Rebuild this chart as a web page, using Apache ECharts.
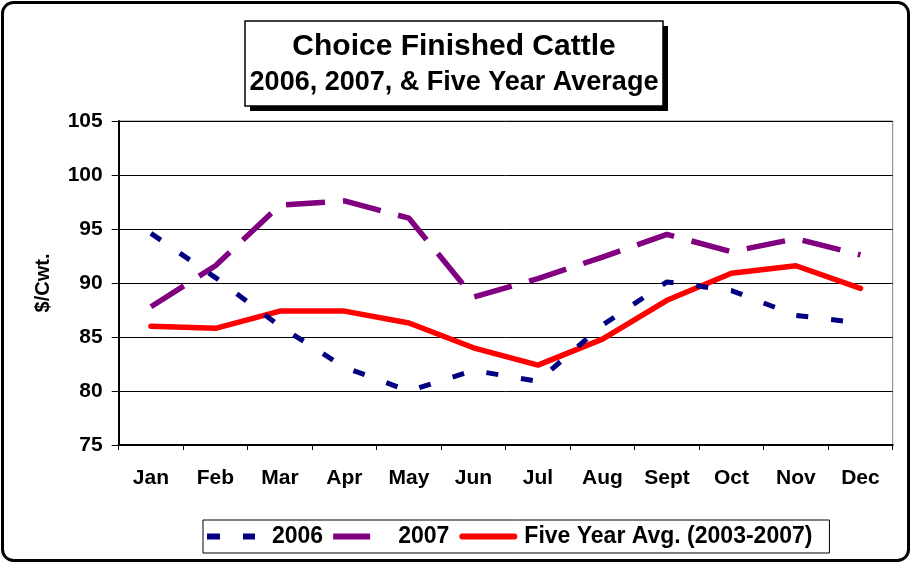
<!DOCTYPE html>
<html>
<head>
<meta charset="utf-8">
<script src="https://cdn.jsdelivr.net/npm/echarts@6/dist/echarts.min.js"></script>
<style>html,body{margin:0;padding:0;background:#fff;}#c{width:915px;height:563px;}</style>
</head>
<body>
<div id="c"></div>
<script>
const months = ['Jan','Feb','Mar','Apr','May','Jun','Jul','Aug','Sept','Oct','Nov','Dec'];
const y2006 = [94.6, 90.5, 86.0, 82.2, 80.0, 81.9, 80.9, 86.1, 90.1, 89.3, 87.0, 86.3];
const y2007 = [87.8, 91.6, 97.2, 97.6, 96.0, 88.7, 90.4, 92.4, 94.5, 92.9, 94.1, 92.6];
const fiveYearAvg = [86.0, 85.8, 87.4, 87.4, 86.3, 84.0, 82.4, 84.8, 88.4, 90.9, 91.6, 89.5];
const yTicks = {min: 75, max: 105, step: 5};
const titleLine1 = 'Choice Finished Cattle';
const titleLine2 = '2006, 2007, & Five Year Average';
const yName = '$/Cwt.';
const names = ['2006', '2007', 'Five Year Avg. (2003-2007)'];

const FONT = '"Liberation Sans", Arial, sans-serif';
const chart = echarts.init(document.getElementById('c'), null, {renderer: 'canvas'});
chart.setOption({
  backgroundColor: '#fff',
  animation: false,
  textStyle: {fontFamily: FONT},
  graphic: [
    {type: 'rect', shape: {x: 2.5, y: 2.5, width: 906, height: 558, r: 11},
     style: {fill: 'none', stroke: '#000', lineWidth: 3}, z: 100},
    {type: 'rect', shape: {x: 250, y: 26, width: 418, height: 85},
     style: {fill: '#000', stroke: null}, z: 4},
    {type: 'rect', shape: {x: 245, y: 21, width: 418, height: 85},
     style: {fill: '#fff', stroke: '#000', lineWidth: 1.5}, z: 5}
  ],
  title: [
    {text: titleLine1, left: 454, top: 32, textAlign: 'center', padding: 0, z: 10,
     textStyle: {fontFamily: FONT, fontWeight: 'bold', fontSize: 30, color: '#000'}},
    {text: titleLine2, left: 454, top: 69, textAlign: 'center', padding: 0, z: 10,
     textStyle: {fontFamily: FONT, fontWeight: 'bold', fontSize: 27, color: '#000'}}
  ],
  legend: {
    data: [
      {name: names[0], icon: 'path://M0,0H13V6H0Z M36,0H48V6H36Z M60,0L60,0.001'},
      {name: names[1], icon: 'path://M0,0H37V6H0Z M60,0L60,0.001'},
      {name: names[2], icon: 'path://M3,0H55A3,3 0 0 1 55,6H3A3,3 0 0 1 3,0Z M0,0L0,0.001 M60,0L60,0.001'}
    ],
    left: 203, top: 520,
    orient: 'horizontal',
    itemWidth: 60, itemHeight: 6, itemGap: 10,
    itemStyle: {borderWidth: 0},
    padding: [5, 17, 5, 4],
    borderColor: '#000', borderWidth: 1, backgroundColor: '#fff',
    textStyle: {fontFamily: FONT, fontWeight: 'bold', fontSize: 23, color: '#000'}
  },
  grid: {left: 118.7, right: 22.3, top: 121, bottom: 118, show: true, borderColor: '#808080', borderWidth: 1, containLabel: false},
  xAxis: {
    type: 'category', data: months, boundaryGap: true,
    axisLine: {show: true, lineStyle: {color: '#000', width: 2}},
    axisTick: {show: true, length: 5, lineStyle: {color: '#000'}},
    axisLabel: {margin: 23, fontFamily: FONT, fontWeight: 'bold', fontSize: 21, color: '#000', interval: 0},
    splitLine: {show: false}
  },
  yAxis: {
    type: 'value', min: yTicks.min, max: yTicks.max, interval: yTicks.step,
    name: yName, nameLocation: 'middle', nameGap: 65,
    nameTextStyle: {fontFamily: FONT, fontWeight: 'bold', fontSize: 20, color: '#000'},
    axisLine: {show: true, lineStyle: {color: '#000', width: 2}},
    axisTick: {show: true, length: 7, lineStyle: {color: '#000'}},
    axisLabel: {margin: 16, fontFamily: FONT, fontWeight: 'bold', fontSize: 21, color: '#000'},
    splitLine: {show: true, lineStyle: {color: '#000', width: 1}}
  },
  series: [
    {name: names[2], type: 'line', data: fiveYearAvg, symbol: 'none', smooth: false,
     lineStyle: {color: '#ff0000', width: 5.5, type: 'solid', join: 'round', cap: 'round'}, itemStyle: {color: '#ff0000'}, z: 2},
    {name: names[1], type: 'line', data: y2007, symbol: 'none', smooth: false,
     lineStyle: {color: '#800080', width: 5.5, type: [39, 18]}, itemStyle: {color: '#800080'}, z: 3},
    {name: names[0], type: 'line', data: y2006, symbol: 'none', smooth: false,
     lineStyle: {color: '#000080', width: 5, type: [12, 23]}, itemStyle: {color: '#000080'}, z: 4}
  ]
});
</script>
</body>
</html>
